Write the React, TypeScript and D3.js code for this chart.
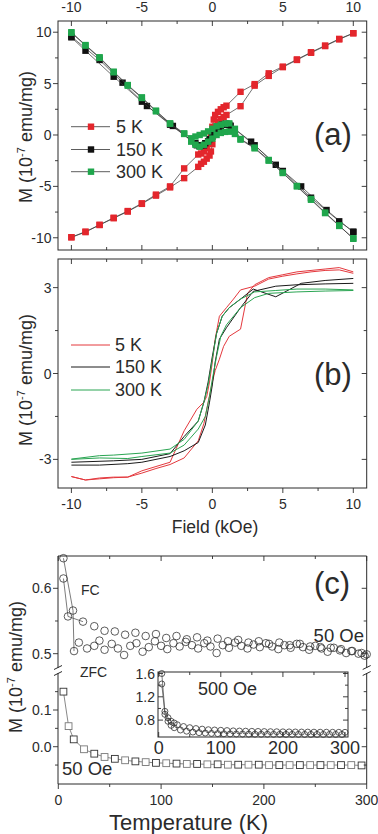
import React from 'react';
import * as d3 from 'd3';

// ---------------- data ----------------
// (a) M(H) with symbols, units 1e-7 emu/mg, field kOe
const a5DescH = [10, 9, 8, 7, 6, 5, 4, 3, 2, 1, 0.8, 0.6, 0.4, 0.2, 0.1, 0, -0.1, -0.2, -0.4, -0.6, -0.8, -1, -2, -3, -4, -5, -6, -7, -8, -9, -10];
const a5DescM = [9.9, 9.35, 8.7, 8.05, 7.35, 6.65, 6.0, 4.95, 4.2, 2.85, 2.7, 2.5, 2.25, 1.95, 1.5, 0.8, 0.0, -0.7, -1.3, -1.6, -1.8, -1.9, -3.25, -5.0, -5.8, -6.65, -7.4, -8.05, -8.75, -9.45, -9.95];
const a5AscH = [-10, -9, -8, -7, -6, -5, -4, -3, -2, -1, -0.8, -0.6, -0.4, -0.2, -0.1, 0, 0.1, 0.2, 0.4, 0.6, 0.8, 1, 2, 3, 4, 5, 6, 7, 8, 9, 10];
const a5AscM = [-9.95, -9.4, -8.75, -8.1, -7.45, -6.7, -5.9, -5.1, -4.2, -3.1, -2.8, -2.6, -2.3, -2.0, -1.6, -0.9, 0.0, 0.8, 1.3, 1.55, 1.75, 1.95, 2.8, 4.8, 5.75, 6.6, 7.3, 8.0, 8.65, 9.3, 9.9];

const a150DescH = [10, 8.1, 6.3, 4.5, 2.75, 1.3, 1.0, 0.7, 0.4, 0.1, -0.2, -0.5, -0.8, -1.1, -2.8, -4.64, -6.37, -8, -10];
const a150DescM = [-9.45, -7.3, -5.0, -2.9, -0.65, 0.9, 1.1, 1.0, 0.6, 0.1, -0.4, -0.8, -1.0, -1.0, 0.88, 2.82, 5.09, 7.3, 9.57];
const a150AscH = [-10, -9, -7, -5, -3, -1.2, -0.9, -0.6, -0.3, 0, 0.3, 0.6, 0.9, 1.2, 3, 5, 7, 9, 10];
const a150AscM = [9.5, 8.2, 5.67, 3.24, 1.0, -0.8, -1.1, -1.0, -0.6, -0.2, 0.3, 0.7, 1.0, 1.0, -1.0, -3.5, -6.1, -8.4, -9.4];

const a300DescH = [10, 9, 8, 7, 6, 5, 4, 3, 2, 1.6, 1.2, 0.9, 0.6, 0.3, 0, -0.3, -0.6, -0.9, -1.2, -1.5, -2, -3, -4, -5, -6, -7, -8, -9, -10];
const a300DescM = [-10.1, -8.8, -7.55, -6.23, -4.96, -3.66, -2.43, -1.23, -0.39, 0.6, 1.13, 1.1, 1.0, 0.85, 0.6, 0.35, 0.15, 0.0, -0.15, -0.32, 0.16, 1.13, 2.37, 3.66, 4.86, 6.16, 7.56, 8.75, 10.0];
const a300AscH = [-10, -9, -8, -7, -6, -5, -4, -3, -2, -1.5, -1.2, -0.9, -0.6, -0.3, 0, 0.3, 0.6, 0.9, 1.2, 1.6, 2, 3, 4, 5, 6, 7, 8, 9, 10];
const a300AscM = [9.95, 8.7, 7.5, 6.1, 4.8, 3.6, 2.3, 1.1, 0.1, -0.65, -0.95, -1.13, -0.95, -0.65, -0.35, 0.0, 0.2, 0.3, 0.32, 0.1, -0.45, -1.3, -2.5, -3.7, -5.0, -6.3, -7.6, -8.85, -10.05];

// (b) corrected loops (lines only)
const b5DescH = [10, 9, 8, 7, 6, 5, 4, 3, 2, 1.5, 1, 0.5, 0.2, 0, -0.2, -0.4, -0.6, -1.1, -2, -3, -4, -5, -6, -7, -8, -9, -10];
const b5DescM = [3.5, 3.62, 3.6, 3.55, 3.48, 3.4, 3.3, 3.05, 2.92, 2.6, 2.3, 2.0, 1.2, 0.4, -0.3, -0.8, -1.0, -1.25, -2.0, -3.1, -3.25, -3.4, -3.62, -3.62, -3.65, -3.72, -3.6];
const b5AscH = [-10, -9, -8, -7, -6, -5, -4, -3, -2, -1, -0.6, -0.3, 0, 0.2, 0.5, 0.8, 1.2, 2, 2.5, 3, 4, 5, 6, 7, 8, 9, 10];
const b5AscM = [-3.6, -3.72, -3.68, -3.64, -3.62, -3.48, -3.32, -3.18, -2.95, -2.35, -1.75, -1.0, -0.3, 0.1, 0.5, 0.95, 1.3, 1.55, 2.8, 3.1, 3.35, 3.45, 3.55, 3.6, 3.65, 3.7, 3.55];

const b150DescH = [10, 8, 6.3, 4.5, 2.9, 2, 1.2, 0.7, 0.3, 0, -0.3, -0.6, -1, -2, -3, -5, -7, -10];
const b150DescM = [3.32, 3.25, 3.15, 2.68, 2.95, 2.6, 2.3, 2.0, 1.4, 0.6, -0.3, -1.0, -1.66, -2.2, -2.8, -3.0, -3.05, -3.1];
const b150AscH = [-10, -8, -6, -5, -3, -2, -1, -0.5, -0.2, 0, 0.2, 0.5, 1, 2, 2.9, 4.5, 6, 8, 10];
const b150AscM = [-3.2, -3.2, -3.15, -3.1, -2.9, -2.7, -2.41, -1.8, -1.0, -0.4, 0.4, 1.2, 1.6, 2.3, 2.87, 3.05, 3.1, 3.13, 3.15];

const b300DescH = [10, 8, 6, 4.5, 3, 2, 1.2, 0.7, 0.3, 0, -0.3, -0.6, -1, -2, -3, -5, -7, -8, -10];
const b300DescM = [2.92, 2.95, 2.95, 2.9, 2.85, 2.6, 2.3, 2.0, 1.4, 0.5, -0.4, -1.0, -1.66, -2.3, -2.64, -2.78, -2.85, -2.87, -2.99];
const b300AscH = [-10, -8, -6, -5, -3, -2, -1, -0.5, -0.2, 0, 0.3, 0.6, 1, 2, 3, 4, 6, 8, 10];
const b300AscM = [-3.0, -2.95, -2.97, -2.9, -2.78, -2.5, -1.94, -1.5, -0.8, -0.2, 0.6, 1.3, 1.7, 2.3, 2.65, 2.8, 2.85, 2.88, 2.9];

// (c) M(T) 50 Oe, FC two branches (circles) and ZFC (squares)
const fc1T = [5, 14.3, 15.3, 20, 28, 35, 40, 45, 52, 58, 64, 70, 76, 82, 88, 94, 100, 106, 112, 118, 124, 130, 136, 142, 148, 154, 160, 166, 172, 178, 184, 190, 196, 202, 208, 214, 220, 226, 232, 238, 244, 250, 256, 262, 268, 274, 280, 286, 292, 298];
const fc1M = [0.646, 0.566, 0.504, 0.517, 0.508, 0.512, 0.520, 0.506, 0.515, 0.508, 0.498, 0.512, 0.516, 0.503, 0.510, 0.519, 0.512, 0.507, 0.516, 0.511, 0.518, 0.513, 0.508, 0.516, 0.511, 0.501, 0.513, 0.509, 0.517, 0.512, 0.508, 0.514, 0.510, 0.516, 0.511, 0.507, 0.513, 0.509, 0.515, 0.510, 0.506, 0.512, 0.508, 0.503, 0.509, 0.505, 0.501, 0.504, 0.500, 0.497];
const fc2T = [5, 9.4, 24, 35, 45, 55, 65, 75, 85, 95, 105, 115, 125, 135, 145, 155, 165, 175, 185, 195, 205, 215, 225, 235, 245, 255, 265, 275, 285, 295, 300];
const fc2M = [0.615, 0.557, 0.549, 0.542, 0.535, 0.534, 0.529, 0.532, 0.527, 0.530, 0.524, 0.527, 0.522, 0.525, 0.520, 0.523, 0.519, 0.521, 0.517, 0.519, 0.515, 0.517, 0.513, 0.515, 0.511, 0.510, 0.509, 0.507, 0.504, 0.501, 0.499];
const zfcT = [5, 10, 15, 25, 35, 45, 55, 65, 75, 85, 95, 105, 115, 125, 135, 145, 155, 165, 175, 185, 195, 205, 215, 225, 235, 245, 255, 265, 275, 285, 295];
const zfcM = [0.15, 0.056, 0.02, -0.007, -0.019, -0.028, -0.033, -0.037, -0.040, -0.042, -0.044, -0.045, -0.046, -0.047, -0.047, -0.048, -0.048, -0.049, -0.049, -0.049, -0.049, -0.050, -0.050, -0.050, -0.050, -0.050, -0.050, -0.050, -0.050, -0.050, -0.051];

// inset 500 Oe
const in1T = [5, 10, 15, 20, 25, 30, 40, 50, 60, 70, 80, 90, 100, 110, 120, 130, 140, 150, 160, 170, 180, 190, 200, 210, 220, 230, 240, 250, 260, 270, 280, 290, 300];
const in1M = [1.6, 0.95, 0.84, 0.78, 0.75, 0.72, 0.69, 0.67, 0.655, 0.645, 0.635, 0.63, 0.625, 0.62, 0.615, 0.612, 0.61, 0.607, 0.605, 0.603, 0.601, 0.6, 0.598, 0.597, 0.596, 0.595, 0.594, 0.593, 0.592, 0.592, 0.591, 0.59, 0.59];
const in2T = [5, 10, 15, 20, 25, 35, 45, 55, 65, 75, 85, 95, 105, 115, 125, 135, 145, 155, 165, 175, 185, 195, 205, 215, 225, 235, 245, 255, 265, 275, 285, 295];
const in2M = [1.42, 0.9, 0.78, 0.71, 0.67, 0.63, 0.61, 0.595, 0.585, 0.578, 0.572, 0.568, 0.565, 0.563, 0.561, 0.56, 0.559, 0.558, 0.557, 0.557, 0.556, 0.556, 0.555, 0.555, 0.555, 0.554, 0.554, 0.554, 0.553, 0.553, 0.553, 0.553];

// ticks
const fieldMajor = [-10, -5, 0, 5, 10];
const fieldMinor = [-7.5, -2.5, 2.5, 7.5];
const aMMajor = [-10, -5, 0, 5, 10];
const aMMinor = [-7.5, -2.5, 2.5, 7.5];
const bMMajor = [-3, 0, 3];
const bMMinor = [-1.5, 1.5];
const tMajor = [0, 100, 200, 300];
const tMinor = [50, 150, 250];
const cUpMajor = [0.5, 0.6];
const cUpMinor = [0.55];
const cLoMajor = [0.0, 0.1];
const cLoMinor = [-0.05, 0.05, 0.15];
const inYMajor = [0.8, 1.2, 1.6];
const inYMinor = [1.0, 1.4];

const legendLabels = ['5 K', '150 K', '300 K'];

// ---------------- layout ----------------
const FONT = "'Liberation Sans', Arial, Helvetica, sans-serif";
const INK = '#2b2b2b';
const RED = '#e3262c';
const BLACK = '#111111';
const GREEN = '#1fa64c';
const B_RED = '#e4383d';
const B_GREEN = '#2aa552';

const L = 58, R = 366.7;
const A_TOP = 21, A_BOT = 250;
const B_TOP = 259, B_BOT = 488;
const C_TOP = 556, C_BOT = 784, C_UP_BOT = 668, C_LO_TOP = 673;
const IN_L = 158, IN_R = 348, IN_T = 672, IN_B = 737;

const xField = d3.scaleLinear().domain([-10.95, 10.95]).range([L, R]);
const yA = d3.scaleLinear().domain([-11.19, 11.09]).range([A_BOT, A_TOP]);
const yB = d3.scaleLinear().domain([-4, 4]).range([B_BOT, B_TOP]);
const xT = d3.scaleLinear().domain([0, 300]).range([58.3, 366.7]);
const yCup = d3.scaleLinear().domain([0.4781, 0.6494]).range([C_UP_BOT, C_TOP]);
const yClo = d3.scaleLinear().domain([-0.1016, 0.2008]).range([C_BOT, C_LO_TOP]);
const xI = d3.scaleLinear().domain([-1.1, 304.8]).range([IN_L, IN_R]);
const yI = d3.scaleLinear().domain([0.51, 1.626]).range([IN_B, IN_T]);

type Sc = (v: number) => number;

const pathOf = (xs: number[], ys: number[], sx: Sc, sy: Sc) =>
  d3.line<number>().x((_, i) => sx(xs[i])).y((_, i) => sy(ys[i]))(xs) || '';

function Ticks({ orient, at, scale, major, minor, inward }: { orient: 'l' | 'r' | 't' | 'b'; at: number; scale: Sc; major: number[]; minor: number[]; inward: boolean }) {
  const dir = inward ? -1 : 1;
  const u = { l: [-1, 0], r: [1, 0], t: [0, -1], b: [0, 1] }[orient];
  const mk = (v: number, len: number, k: string) => {
    const p = scale(v);
    if (orient === 'l' || orient === 'r') return <line key={k} x1={at} x2={at + u[0] * dir * len} y1={p} y2={p} />;
    return <line key={k} x1={p} x2={p} y1={at} y2={at + u[1] * dir * len} />;
  };
  return (
    <g stroke={INK} strokeWidth={0.9}>
      {major.map((v, i) => mk(v, 5, 'M' + i))}
      {minor.map((v, i) => mk(v, 3, 'm' + i))}
    </g>
  );
}

function YTitle({ x, y }: { x: number; y: number }) {
  return (
    <text transform={`translate(${x},${y}) rotate(-90)`} textAnchor="middle" fontSize={18} fill={INK}>
      M (10<tspan dy={-7} fontSize={11}>-7</tspan><tspan dy={7}> emu/mg)</tspan>
    </text>
  );
}

function SquareSeries({ xs, ys, sx, sy, color }: { xs: number[]; ys: number[]; sx: Sc; sy: Sc; color: string }) {
  const s = 6.4;
  return (
    <g>
      <path d={pathOf(xs, ys, sx, sy)} fill="none" stroke="#333" strokeWidth={0.7} />
      {xs.map((x, i) => (
        <rect key={i} x={sx(x) - s / 2} y={sy(ys[i]) - s / 2} width={s} height={s} fill={color} />
      ))}
    </g>
  );
}

export default function App() {
  const fmt1 = d3.format('.1f');
  const aSeries = [
    { c: RED, d: [[a5DescH, a5DescM], [a5AscH, a5AscM]] },
    { c: BLACK, d: [[a150DescH, a150DescM], [a150AscH, a150AscM]] },
    { c: GREEN, d: [[a300DescH, a300DescM], [a300AscH, a300AscM]] },
  ];
  const bSeries = [
    { c: B_RED, d: [[b5DescH, b5DescM], [b5AscH, b5AscM]] },
    { c: '#1a1a1a', d: [[b150DescH, b150DescM], [b150AscH, b150AscM]] },
    { c: B_GREEN, d: [[b300DescH, b300DescM], [b300AscH, b300AscM]] },
  ];
  const aLegY = [126.7, 149.5, 171.7];
  const bLegY = [345, 367, 390];

  return (
    <div style={{ position: 'absolute', left: 0, top: 0 }}>
      <svg width={378} height={834} style={{ display: 'block', background: '#fff' }} fontFamily={FONT}>
        {/* ---------- panel (a) ---------- */}
        <g>
          {aSeries.map((s, si) =>
            s.d.map((pair, pi) => (
              <SquareSeries key={si + '-' + pi} xs={pair[0]} ys={pair[1]} sx={xField} sy={yA} color={s.c} />
            ))
          )}
          <rect x={L} y={A_TOP} width={R - L} height={A_BOT - A_TOP} fill="none" stroke={INK} strokeWidth={1} />
          <Ticks orient="t" at={A_TOP} scale={xField} major={fieldMajor} minor={fieldMinor} inward />
          <Ticks orient="b" at={A_BOT} scale={xField} major={fieldMajor} minor={fieldMinor} inward />
          <Ticks orient="l" at={L} scale={yA} major={aMMajor} minor={aMMinor} inward={false} />
          <Ticks orient="r" at={R} scale={yA} major={aMMajor} minor={aMMinor} inward />
          {fieldMajor.map((v) => (
            <text key={v} x={xField(v)} y={A_TOP - 9.5} textAnchor="middle" fontSize={14} fill={INK}>{v}</text>
          ))}
          {aMMajor.map((v) => (
            <text key={v} x={L - 6.5} y={yA(v)} dy="0.36em" textAnchor="end" fontSize={14} fill={INK}>{v}</text>
          ))}
          {aSeries.map((s, i) => (
            <g key={i}>
              <line x1={71} x2={110} y1={aLegY[i]} y2={aLegY[i]} stroke="#333" strokeWidth={0.8} />
              <rect x={91 - 3.2} y={aLegY[i] - 3.2} width={6.4} height={6.4} fill={s.c} />
              <text x={116} y={aLegY[i]} dy="0.36em" fontSize={18} fill={INK}>{legendLabels[i]}</text>
            </g>
          ))}
          <text x={314} y={145} fontSize={31} fill={INK}>(a)</text>
          <YTitle x={32} y={137} />
        </g>

        {/* ---------- panel (b) ---------- */}
        <g>
          {bSeries.map((s, si) =>
            s.d.map((pair, pi) => (
              <path key={si + '-' + pi} d={pathOf(pair[0], pair[1], xField, yB)} fill="none" stroke={s.c} strokeWidth={1} />
            ))
          )}
          <rect x={L} y={B_TOP} width={R - L} height={B_BOT - B_TOP} fill="none" stroke={INK} strokeWidth={1} />
          <Ticks orient="t" at={B_TOP} scale={xField} major={fieldMajor} minor={fieldMinor} inward />
          <Ticks orient="b" at={B_BOT} scale={xField} major={fieldMajor} minor={fieldMinor} inward={false} />
          <Ticks orient="l" at={L} scale={yB} major={bMMajor} minor={bMMinor} inward={false} />
          <Ticks orient="r" at={R} scale={yB} major={bMMajor} minor={bMMinor} inward />
          {fieldMajor.map((v) => (
            <text key={v} x={xField(v)} y={B_BOT + 20.5} textAnchor="middle" fontSize={14} fill={INK}>{v}</text>
          ))}
          {bMMajor.map((v) => (
            <text key={v} x={L - 6.5} y={yB(v)} dy="0.36em" textAnchor="end" fontSize={14} fill={INK}>{v}</text>
          ))}
          {bSeries.map((s, i) => (
            <g key={i}>
              <line x1={71} x2={110} y1={bLegY[i]} y2={bLegY[i]} stroke={s.c} strokeWidth={1} />
              <text x={115} y={bLegY[i]} dy="0.36em" fontSize={18} fill={INK}>{legendLabels[i]}</text>
            </g>
          ))}
          <text x={314} y={385} fontSize={31} fill={INK}>(b)</text>
          <YTitle x={32} y={380} />
          <text x={215} y={533} textAnchor="middle" fontSize={17.5} fill={INK}>Field (kOe)</text>
        </g>

        {/* ---------- panel (c) ---------- */}
        <g>
          {/* FC 50 Oe */}
          <path d={pathOf(fc1T.slice(0, 3), fc1M.slice(0, 3), xT, yCup)} fill="none" stroke="#444" strokeWidth={0.7} />
          <path d={pathOf(fc2T.slice(0, 3), fc2M.slice(0, 3), xT, yCup)} fill="none" stroke="#444" strokeWidth={0.7} />
          {fc1T.map((t, i) => (
            <circle key={'a' + i} cx={xT(t)} cy={yCup(fc1M[i])} r={3.8} fill="none" stroke="#333" strokeWidth={0.8} />
          ))}
          {fc2T.map((t, i) => (
            <circle key={'b' + i} cx={xT(t)} cy={yCup(fc2M[i])} r={3.8} fill="none" stroke="#333" strokeWidth={0.8} />
          ))}
          {/* ZFC 50 Oe */}
          <path d={pathOf(zfcT, zfcM, xT, yClo)} fill="none" stroke="#555" strokeWidth={0.7} />
          {zfcT.map((t, i) => (
            <rect key={'z' + i} x={xT(t) - 3.4} y={yClo(zfcM[i]) - 3.4} width={6.8} height={6.8} fill="#fff" stroke={i % 2 ? '#777' : '#333'} strokeWidth={0.9} />
          ))}

          {/* frame with broken y axis */}
          <g stroke={INK} strokeWidth={1} fill="none">
            <line x1={L} x2={R} y1={C_TOP} y2={C_TOP} />
            <line x1={L} x2={R} y1={C_BOT} y2={C_BOT} />
            <line x1={L} x2={L} y1={C_TOP} y2={C_UP_BOT} />
            <line x1={L} x2={L} y1={C_LO_TOP} y2={C_BOT} />
            <line x1={R} x2={R} y1={C_TOP} y2={C_UP_BOT} />
            <line x1={R} x2={R} y1={C_LO_TOP} y2={C_BOT} />
            <line x1={L - 4} x2={L + 4} y1={C_UP_BOT + 1.5} y2={C_UP_BOT - 2.5} />
            <line x1={L - 4} x2={L + 4} y1={C_LO_TOP + 2.5} y2={C_LO_TOP - 1.5} />
            <line x1={R - 4} x2={R + 4} y1={C_UP_BOT + 1.5} y2={C_UP_BOT - 2.5} />
            <line x1={R - 4} x2={R + 4} y1={C_LO_TOP + 2.5} y2={C_LO_TOP - 1.5} />
          </g>
          <Ticks orient="t" at={C_TOP} scale={xT} major={tMajor} minor={tMinor} inward />
          <Ticks orient="b" at={C_BOT} scale={xT} major={tMajor} minor={tMinor} inward={false} />
          <Ticks orient="l" at={L} scale={yCup} major={cUpMajor} minor={cUpMinor} inward={false} />
          <Ticks orient="r" at={R} scale={yCup} major={cUpMajor} minor={cUpMinor} inward />
          <Ticks orient="l" at={L} scale={yClo} major={cLoMajor} minor={cLoMinor} inward={false} />
          <Ticks orient="r" at={R} scale={yClo} major={cLoMajor} minor={cLoMinor} inward />
          {tMajor.map((v) => (
            <text key={v} x={xT(v)} y={C_BOT + 20.5} textAnchor="middle" fontSize={14} fill={INK}>{v}</text>
          ))}
          {cUpMajor.map((v) => (
            <text key={v} x={L - 6.5} y={yCup(v)} dy="0.36em" textAnchor="end" fontSize={14} fill={INK}>{fmt1(v)}</text>
          ))}
          {cLoMajor.map((v) => (
            <text key={v} x={L - 6.5} y={yClo(v)} dy="0.36em" textAnchor="end" fontSize={14} fill={INK}>{fmt1(v)}</text>
          ))}

          {/* inset */}
          <rect x={IN_L} y={IN_T} width={IN_R - IN_L} height={IN_B - IN_T} fill="#fff" stroke={INK} strokeWidth={1} />
          <path d={pathOf(in1T.slice(0, 4), in1M.slice(0, 4), xI, yI)} fill="none" stroke="#444" strokeWidth={0.7} />
          <path d={pathOf(in2T.slice(0, 4), in2M.slice(0, 4), xI, yI)} fill="none" stroke="#444" strokeWidth={0.7} />
          {in1T.map((t, i) => (
            <circle key={'i' + i} cx={xI(t)} cy={yI(in1M[i])} r={3} fill="none" stroke="#333" strokeWidth={0.8} />
          ))}
          {in2T.map((t, i) => (
            <circle key={'j' + i} cx={xI(t)} cy={yI(in2M[i])} r={3} fill="none" stroke="#333" strokeWidth={0.8} />
          ))}
          <Ticks orient="t" at={IN_T} scale={xI} major={tMajor} minor={tMinor} inward />
          <Ticks orient="b" at={IN_B} scale={xI} major={tMajor} minor={tMinor} inward />
          <Ticks orient="l" at={IN_L} scale={yI} major={inYMajor} minor={inYMinor} inward />
          <Ticks orient="r" at={IN_R} scale={yI} major={inYMajor} minor={inYMinor} inward />
          {tMajor.map((v) => (
            <text key={v} x={xI(v)} y={IN_B + 16.5} textAnchor="middle" fontSize={18} fill={INK}>{v}</text>
          ))}
          {inYMajor.map((v) => (
            <text key={v} x={IN_L - 3} y={yI(v)} dy="0.36em" textAnchor="end" fontSize={14} fill={INK}>{fmt1(v)}</text>
          ))}

          {/* annotations */}
          <text x={81} y={595} fontSize={14} fill={INK}>FC</text>
          <text x={80} y={677} fontSize={14} fill={INK}>ZFC</text>
          <text x={364} y={641.5} textAnchor="end" fontSize={18.5} fill={INK}>50 Oe</text>
          <text x={198} y={695} fontSize={18} fill={INK}>500 Oe</text>
          <text x={62} y={775} fontSize={18.5} fill={INK}>50 Oe</text>
          <text x={314} y={593.5} fontSize={31} fill={INK}>(c)</text>
          <YTitle x={22} y={667} />
          <text x={188.5} y={830} textAnchor="middle" fontSize={22} fill={INK}>Temperature (K)</text>
        </g>
      </svg>
    </div>
  );
}
